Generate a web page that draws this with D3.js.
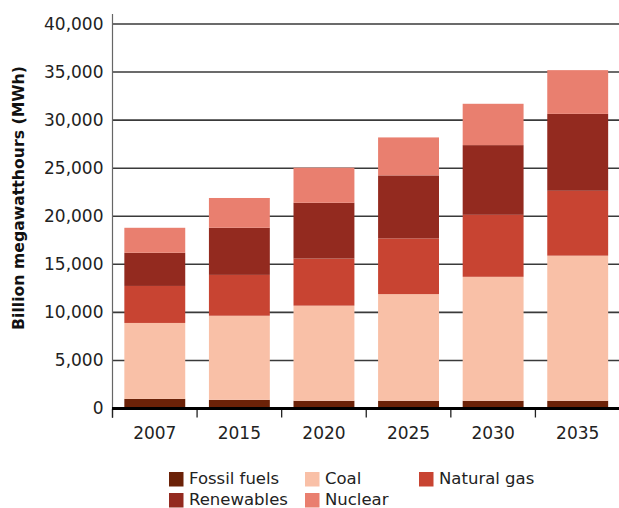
<!DOCTYPE html>
<html><head><meta charset="utf-8">
<script src="https://cdn.jsdelivr.net/npm/d3@7"></script>
<style>body{margin:0;background:#fff}svg{display:block}text{font-family:"DejaVu Sans",sans-serif}</style>
</head><body><svg id="c" width="619" height="508"></svg>
<script>
const years = ["2007","2015","2020","2025","2030","2035"];
const seriesNames = ["Fossil fuels","Coal","Natural gas","Renewables","Nuclear"];
const fossil     = [1000, 900, 800, 800, 800, 800];
const coal       = [7900, 8750, 9900, 11100, 12900, 15100];
const naturalGas = [3850, 4250, 4900, 5800, 6450, 6750];
const renewables = [3450, 4900, 5800, 6550, 7250, 8000];
const nuclear    = [2600, 3100, 3650, 3950, 4300, 4550];
const yTicks = [0,5000,10000,15000,20000,25000,30000,35000,40000];
const colors = ["#6b2208","#f9c0a7","#c84432","#932a1f","#e97f6f"];

const seriesValues = [fossil, coal, naturalGas, renewables, nuclear];
const table = years.map((y,i)=>{const o={year:y}; seriesNames.forEach((s,j)=>o[s]=seriesValues[j][i]); return o;});
const stacked = d3.stack().keys(seriesNames)(table);

const svg = d3.select("#c");
const x = d3.scaleBand().domain(years).range([112.5,620]).paddingInner(0.28).paddingOuter(0.14);
const y = d3.scaleLinear().domain([0,40000]).range([408.5,24]);

// gridlines + y labels
const yAxis = d3.axisLeft(y).tickValues(yTicks).tickFormat(d3.format(",")).tickSize(0).tickPadding(9);
const gy = svg.append("g").attr("transform","translate(112.5,0)").call(yAxis);
gy.select(".domain").remove();
gy.selectAll("text").attr("font-size",17).attr("fill","#222").style("font-family","'DejaVu Sans',sans-serif");
svg.append("g").selectAll("line").data(yTicks.filter(d=>d>0)).join("line")
  .attr("x1",112).attr("x2",619).attr("y1",d=>y(d)).attr("y2",d=>y(d))
  .attr("stroke","#3a3a3a").attr("stroke-width",1.6);
// y axis line
svg.append("line").attr("x1",112.5).attr("x2",112.5).attr("y1",14).attr("y2",418)
  .attr("stroke","#666").attr("stroke-width",1.2);

// bars
svg.append("g").selectAll("g").data(stacked).join("g").attr("fill",(d,i)=>colors[i])
  .selectAll("rect").data(d=>d).join("rect")
  .attr("x",d=>x(d.data.year)).attr("width",x.bandwidth())
  .attr("y",d=>y(d[1])).attr("height",d=>y(d[0])-y(d[1]));

// x axis
const step = x.step();
const boundaries = d3.range(years.length+1).map(i=>112.5+i*step);
svg.append("g").selectAll("line").data(boundaries.slice(1,-1).concat([112.5])).join("line")
  .attr("x1",d=>d).attr("x2",d=>d).attr("y1",409).attr("y2",417.5)
  .attr("stroke","#222").attr("stroke-width",1.3);
svg.append("line").attr("x1",112).attr("x2",619).attr("y1",408.5).attr("y2",408.5)
  .attr("stroke","#000").attr("stroke-width",3);
svg.append("g").selectAll("text").data(years).join("text")
  .attr("x",d=>x(d)+x.bandwidth()/2).attr("y",439).attr("text-anchor","middle")
  .attr("font-size",17).attr("fill","#222").text(d=>d);

// y title
svg.append("text").attr("transform","translate(23.5,198) rotate(-90)").attr("text-anchor","middle")
  .attr("font-size",15.7).attr("font-weight","bold").attr("fill","#111").text("Billion megawatthours (MWh)");

// legend
const legPos = [[169,472],[305,472],[419,472],[169,493],[305,493]];
const lg = svg.append("g").selectAll("g").data(seriesNames).join("g")
  .attr("transform",(d,i)=>`translate(${legPos[i][0]},${legPos[i][1]})`);
lg.append("rect").attr("width",14.5).attr("height",14.5).attr("fill",(d,i)=>colors[i]);
lg.append("text").attr("x",20).attr("y",11.5).attr("font-size",16.5).attr("fill","#222").text(d=>d);
</script></body></html>
